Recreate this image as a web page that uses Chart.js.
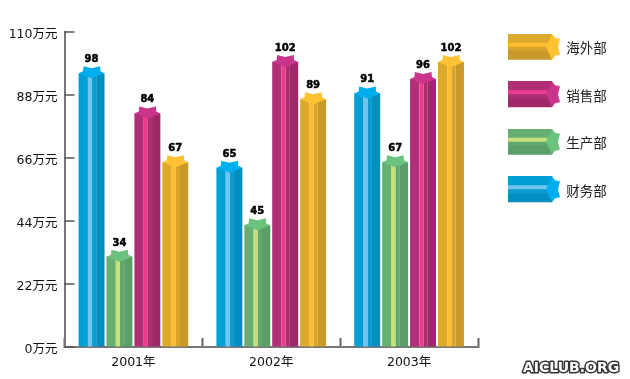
<!DOCTYPE html>
<html>
<head>
<meta charset="utf-8">
<style>
  html, body { margin: 0; padding: 0; background: #fff; }
  canvas { display: block; }
</style>
<script src="https://cdn.jsdelivr.net/npm/chart.js@4"></script>
</head>
<body>
<canvas id="chart" width="630" height="379"></canvas>
<script>
const years = ["2001年", "2002年", "2003年"];
const finance = [98, 65, 91];
const production = [34, 45, 67];
const sales = [84, 102, 96];
const overseas = [67, 89, 102];
const yTicks = [0, 22, 44, 66, 88, 110];
const watermark = "AICLUB.ORG";

const FONT = '"DejaVu Sans", "Noto Sans CJK SC", sans-serif';

// base, stripe, middle, shade, star
const blue = ["#00a0d6", "#70c6ee", "#0a9bd0", "#008fbf", "#00aeef"];
const green = ["#66af72", "#c8e07a", "#60a86d", "#5a9e68", "#6cc27f"];
const pink = ["#b02f76", "#ee3b8e", "#a92e72", "#a02869", "#c8358a"];
const gold = ["#dda92b", "#fdbd2e", "#d8a42a", "#c9992a", "#ffc233"];

function drawBar(ctx, el, c) {
  const x = el.x - el.width / 2;
  const w = el.width;
  const top = el.y;
  const body = top + 7;
  const h = el.base - body;
  const cols = [[0, 0.36, c[0]], [0.36, 0.52, c[1]], [0.52, 0.68, c[2]], [0.68, 1, c[3]]];
  cols.forEach((s) => {
    ctx.fillStyle = s[2];
    ctx.fillRect(x + w * s[0], body, w * (s[1] - s[0]), h);
  });
  // star cap on top of the bar
  ctx.fillStyle = c[4];
  ctx.beginPath();
  ctx.moveTo(x + w * 0.19, top);
  ctx.lineTo(x + w * 0.5, top + 2);
  ctx.lineTo(x + w * 0.83, top);
  ctx.lineTo(x + w * 0.84, top + 5);
  ctx.lineTo(x + w, top + 7);
  ctx.lineTo(x + w * 0.5, top + 12);
  ctx.lineTo(x, top + 7);
  ctx.lineTo(x + w * 0.17, top + 5);
  ctx.closePath();
  ctx.fill();
}

// taller than the icon on purpose: the legend text sits 3px below the icon centre
function legendIcon(c) {
  const cv = document.createElement("canvas");
  cv.width = 53;
  cv.height = 32;
  const ctx = cv.getContext("2d");
  [[0, 9, c[0]], [9, 4, c[1]], [13, 4, c[2]], [17, 9, c[3]]].forEach((s) => {
    ctx.fillStyle = s[2];
    ctx.fillRect(0, s[0], 44, s[1]);
  });
  ctx.fillStyle = c[4];
  ctx.beginPath();
  ctx.moveTo(44, 0);
  ctx.lineTo(47, 4);
  ctx.lineTo(52, 5);
  ctx.lineTo(50, 13);
  ctx.lineTo(52, 21);
  ctx.lineTo(47, 22);
  ctx.lineTo(44, 26);
  ctx.lineTo(38, 13);
  ctx.closePath();
  ctx.fill();
  return cv;
}

const barPlugin = {
  id: "starBars",
  beforeDatasetDraw(chart, args) {
    const ctx = chart.ctx;
    const colors = chart.data.datasets[args.index].colors;
    ctx.save();
    args.meta.data.forEach((el) => drawBar(ctx, el, colors));
    ctx.restore();
    return false;
  },
  afterDatasetsDraw(chart) {
    const ctx = chart.ctx;
    ctx.save();
    ctx.font = "bold 10px " + FONT;
    ctx.fillStyle = "#000";
    ctx.strokeStyle = "#000";
    ctx.lineWidth = 0.5;
    ctx.textAlign = "center";
    ctx.textBaseline = "alphabetic";
    chart.data.datasets.forEach((ds, i) => {
      chart.getDatasetMeta(i).data.forEach((el, j) => {
        ctx.fillText(ds.data[j], el.x, el.y - 4);
        ctx.strokeText(ds.data[j], el.x, el.y - 4);
      });
    });
    ctx.restore();
  },
  afterDraw(chart) {
    const ctx = chart.ctx;
    const y = chart.scales.y;
    ctx.save();
    // y ticks point into the plot
    ctx.strokeStyle = "#555";
    ctx.lineWidth = 1.5;
    yTicks.forEach((v) => {
      const p = y.getPixelForValue(v);
      ctx.beginPath();
      ctx.moveTo(y.right, p);
      ctx.lineTo(y.right + 10, p);
      ctx.stroke();
    });
    ctx.font = "bold 14px " + FONT;
    ctx.textAlign = "left";
    ctx.textBaseline = "alphabetic";
    ctx.lineJoin = "round";
    ctx.strokeStyle = "#333";
    ctx.lineWidth = 3;
    ctx.strokeText(watermark, 523, 372);
    ctx.fillStyle = "#fff";
    ctx.fillText(watermark, 523, 372);
    ctx.restore();
  },
  afterLayout(chart) {
    const pad = chart.options.plugins.legend.labels.padding;
    const legend = chart.legend;
    // the legend sits outside the plot, clear of the layout
    legend.left = 509.5 - pad;
    legend.top = 43 - pad;
    legend.right = 630;
    legend.bottom = 379;
  },
};

new Chart(document.getElementById("chart"), {
  type: "bar",
  data: {
    labels: years,
    datasets: [
      { label: "财务部", data: finance, colors: blue, backgroundColor: blue[0], icon: legendIcon(blue) },
      { label: "生产部", data: production, colors: green, backgroundColor: green[0], icon: legendIcon(green) },
      { label: "销售部", data: sales, colors: pink, backgroundColor: pink[0], icon: legendIcon(pink) },
      { label: "海外部", data: overseas, colors: gold, backgroundColor: gold[0], icon: legendIcon(gold) },
    ],
  },
  options: {
    responsive: false,
    animation: false,
    layout: { padding: { top: 32, right: 152, left: 0, bottom: 0 } },
    categoryPercentage: 0.81,
    barPercentage: 0.93,
    plugins: {
      tooltip: { enabled: false },
      legend: {
        position: "chartArea",
        align: "start",
        labels: {
          font: { family: FONT, size: 13.5 },
          color: "#222",
          usePointStyle: true,
          pointStyleWidth: 50,
          padding: 34,
          generateLabels(chart) {
            return chart.data.datasets.map((ds, i) => ({
              text: ds.label,
              pointStyle: ds.icon,
              datasetIndex: i,
              fontColor: "#222",
            })).reverse();
          },
        },
      },
    },
    scales: {
      x: {
        afterFit(s) { s.height = 32; },
        border: { color: "#777", width: 2 },
        grid: { drawOnChartArea: false, offset: true, tickLength: -9, tickColor: "#666", tickWidth: 2 },
        ticks: { color: "#111", font: { family: FONT, size: 12.5 }, padding: 17, maxRotation: 0 },
      },
      y: {
        min: 0,
        max: 110,
        afterFit(s) { s.width = 64.5; },
        afterBuildTicks(s) { s.ticks = yTicks.map((v) => ({ value: v })); },
        border: { color: "#777", width: 2 },
        grid: { drawOnChartArea: false, drawTicks: false },
        // empty first line + lineHeight 6 puts the label 3px below its tick, like the original
        ticks: {
          color: "#111",
          font: { family: FONT, size: 12.5, lineHeight: "6px" },
          padding: 7,
          callback: (v) => ["", v + "万元"],
        },
      },
    },
  },
  plugins: [barPlugin],
});
</script>
</body>
</html>
